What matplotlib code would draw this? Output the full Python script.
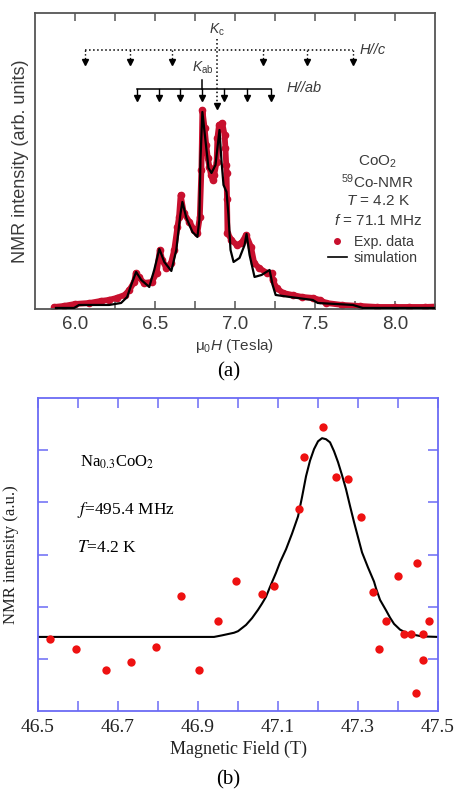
import numpy as np
import matplotlib
matplotlib.use("Agg")
import matplotlib.pyplot as plt
from matplotlib.lines import Line2D

plt.rcParams['mathtext.fontset'] = 'custom'
plt.rcParams['mathtext.rm'] = 'Liberation Sans'
plt.rcParams['mathtext.it'] = 'Liberation Sans:italic'

# ---- (a) CoO2, 59Co-NMR spectrum ----
exp_field = [5.87, 5.93, 6.00, 6.09, 6.16, 6.21, 6.26, 6.31, 6.34, 6.37, 6.38,
             6.40, 6.43, 6.48, 6.51, 6.53, 6.545, 6.57, 6.60, 6.62, 6.64, 6.65,
             6.66, 6.68, 6.715, 6.745, 6.765, 6.78, 6.79, 6.796, 6.81, 6.82,
             6.83, 6.84, 6.85, 6.86, 6.87, 6.885, 6.89, 6.90, 6.92, 6.935, 6.94,
             6.945, 6.947, 6.95, 6.953, 6.978, 7.01, 7.04, 7.07, 7.10, 7.12,
             7.15, 7.20, 7.23, 7.235, 7.26, 7.30, 7.36, 7.42, 7.49, 7.53, 7.57,
             7.67, 7.78, 7.89, 8.00, 8.09, 8.19, 8.25]
exp_int = [0.01, 0.015, 0.025, 0.03, 0.04, 0.045, 0.055, 0.07, 0.095, 0.135, 0.18,
           0.16, 0.13, 0.135, 0.18, 0.295, 0.245, 0.205, 0.23, 0.295, 0.41, 0.46,
           0.57, 0.48, 0.435, 0.395, 0.38, 0.46, 0.695, 0.995, 0.905, 0.82,
           0.755, 0.71, 0.67, 0.645, 0.67, 0.735, 0.855, 0.92, 0.93, 0.87, 0.805,
           0.72, 0.68, 0.55, 0.38, 0.345, 0.32, 0.33, 0.37, 0.31, 0.23,
           0.205, 0.18, 0.18, 0.145, 0.105, 0.08, 0.07, 0.06, 0.055, 0.045, 0.03,
           0.02, 0.015, 0.01, 0.01, 0.01, 0.01, 0.012]

sim_field = [5.881, 5.994, 6.025, 6.213, 6.288, 6.326, 6.351, 6.382, 6.414, 6.464,
             6.495, 6.527, 6.558, 6.602, 6.633, 6.658, 6.671, 6.696, 6.734, 6.765,
             6.777, 6.784, 6.796, 6.815, 6.834, 6.853, 6.878, 6.903, 6.915, 6.928,
             6.947, 6.959, 6.972, 6.991, 7.028, 7.060, 7.072, 7.091, 7.122, 7.166,
             7.216, 7.235, 7.254, 7.342, 7.486, 7.517, 7.737, 7.799, 8.25]
sim_int = [0.005, 0.005, 0.02, 0.02, 0.03, 0.06, 0.12, 0.185, 0.145, 0.11,
           0.195, 0.30, 0.235, 0.19, 0.295, 0.47, 0.535, 0.455, 0.385, 0.36,
           0.445, 0.745, 0.985, 0.845, 0.705, 0.68, 0.72, 0.895, 0.745, 0.62,
           0.585, 0.47, 0.295, 0.235, 0.255, 0.32, 0.375, 0.27, 0.16, 0.17,
           0.195, 0.12, 0.07, 0.06, 0.045, 0.03, 0.02, 0.005, 0.005]

hc_lines = [6.063, 6.345, 6.608, 7.172, 7.448, 7.737]
hab_lines = [6.389, 6.527, 6.658, 6.796, 6.934, 7.072, 7.223]
k_c = 6.89
k_ab = 6.796

# ---- (b) Na0.3CoO2 ----
b_field = [46.53, 46.594, 46.67, 46.733, 46.794, 46.857, 46.903, 46.949, 46.996,
           47.059, 47.09, 47.153, 47.166, 47.213, 47.245, 47.276, 47.307, 47.338,
           47.353, 47.37, 47.399, 47.416, 47.433, 47.445, 47.447, 47.462, 47.462,
           47.478]
b_int = [1.38, 1.19, 0.79, 0.94, 1.23, 2.20, 0.79, 1.73, 2.49,
         2.24, 2.39, 3.88, 4.87, 5.44, 4.49, 4.44, 3.72, 2.28,
         1.19, 1.73, 2.58, 1.48, 1.48, 0.34, 2.84, 1.48, 0.98,
         1.73]

fit_field = [46.5, 46.94, 46.96, 46.99, 47.0, 47.02, 47.035, 47.05, 47.06, 47.07,
             47.08, 47.095, 47.105, 47.12, 47.135, 47.15, 47.16, 47.17, 47.18,
             47.19, 47.2, 47.21, 47.22, 47.23, 47.24, 47.25, 47.26, 47.27, 47.28,
             47.29, 47.30, 47.31, 47.325, 47.34, 47.345, 47.355, 47.37, 47.38,
             47.39, 47.405, 47.42, 47.44, 47.46, 47.5]
fit_int = [1.42, 1.42, 1.45, 1.50, 1.53, 1.65, 1.78, 1.94, 2.06, 2.19,
           2.38, 2.65, 2.85, 3.1, 3.4, 3.73, 4.1, 4.5, 4.8,
           5.02, 5.17, 5.23, 5.21, 5.15, 4.98, 4.77, 4.52, 4.25, 3.93,
           3.62, 3.33, 3.04, 2.75, 2.48, 2.35, 2.13, 1.93, 1.79,
           1.67, 1.56, 1.5, 1.46, 1.43, 1.42]

gray = '#3a3a3a'
red_a = '#c8102e'
red_b = '#ee1111'
blue = '#6b6bf5'

fig = plt.figure(figsize=(4.57, 7.9), dpi=100)

# panel (a)
ax1 = fig.add_axes([0.0766, 0.6089, 0.8753, 0.3747])
ax1.plot(exp_field, exp_int, '-', color=red_a, lw=4.2, solid_joinstyle='round',
         solid_capstyle='round', zorder=2)
ax1.plot(exp_field, exp_int, 'o', color=red_a, ms=4.5, zorder=2)
ax1.plot(sim_field, sim_int, '-', color='black', lw=1.6, zorder=3)

# H//c satellite positions (dotted)
y_hc, tip_hc = 1.295, 1.225
ax1.plot([hc_lines[0], hc_lines[-1]], [y_hc, y_hc], ':', color='black', lw=1.1)
for x in hc_lines:
    ax1.plot([x, x], [y_hc, tip_hc + 0.02], ':', color='black', lw=1.0)
    ax1.plot(x, tip_hc + 0.01, 'v', color='black', ms=4.5)
ax1.plot([k_c, k_c], [1.35, 1.03], ':', color='black', lw=1.1)
ax1.plot(k_c, 1.015, 'v', color='black', ms=4.5)
ax1.text(k_c, 1.395, r'$K_\mathrm{c}$', ha='center', va='center', fontsize=10,
         color=gray, math_fontfamily='custom')
ax1.text(7.78, y_hc, 'H//c', ha='left', va='center', fontsize=10.5, style='italic',
         color=gray, family='Liberation Sans')

# H//ab satellite positions (solid)
y_hab, tip_hab = 1.10, 1.045
ax1.plot([hab_lines[0], hab_lines[-1]], [y_hab, y_hab], '-', color='black', lw=1.1)
for x in hab_lines:
    ax1.plot([x, x], [y_hab, tip_hab + 0.02], '-', color='black', lw=1.0)
    ax1.plot(x, tip_hab + 0.01, 'v', color='black', ms=4.5)
ax1.plot([k_ab, k_ab], [1.145, y_hab], '-', color='black', lw=1.1)
ax1.text(k_ab, 1.205, r'$K_\mathrm{ab}$', ha='center', va='center', fontsize=10,
         color=gray, math_fontfamily='custom')
ax1.text(7.32, y_hab + 0.005, 'H//ab', ha='left', va='center', fontsize=10.5,
         style='italic', color=gray, family='Liberation Sans')

info_a = [r'CoO$_2$', r'$^{59}$Co-NMR', r'$T$ = 4.2 K', r'$f$ = 71.1 MHz']
for i, s in enumerate(info_a):
    ax1.text(0.857, 0.497 - i * 0.0655, s, transform=ax1.transAxes, ha='center',
             va='center', fontsize=11, color=gray, family='Liberation Sans',
             math_fontfamily='custom')
handles = [Line2D([], [], ls='none', marker='o', color=red_a, ms=4),
           Line2D([], [], ls='-', color='black', lw=1.2)]
leg = ax1.legend(handles, ['Exp. data', 'simulation'], loc='center',
                 bbox_to_anchor=(0.845, 0.2), frameon=False, handlelength=1.3,
                 handletextpad=0.5, labelspacing=0.15, borderpad=0,
                 prop={'family': 'Liberation Sans', 'size': 10.2})
for t in leg.get_texts():
    t.set_color(gray)

ax1.set_xlim(5.75, 8.25)
ax1.set_ylim(0, 1.48)
ax1.set_xticks([6.0, 6.5, 7.0, 7.5, 8.0])
ax1.set_xticklabels(['6.0', '6.5', '7.0', '7.5', '8.0'])
ax1.set_xticks(np.arange(6.25, 8.0, 0.5), minor=True)
ax1.set_yticks([])
ax1.tick_params(axis='x', which='both', direction='in', top=True, bottom=True,
                length=6, width=1.1, color='#555555', labelsize=13.5, labelcolor=gray,
                pad=5)
for lbl in ax1.get_xticklabels():
    lbl.set_family('Liberation Sans')
for sp in ax1.spines.values():
    sp.set_color('#555555')
    sp.set_linewidth(1.3)
ax1.set_xlabel('μ$_0$$H$ (Tesla)', fontsize=11, color=gray, family='Liberation Sans',
               math_fontfamily='custom', labelpad=3)
ax1.set_ylabel('NMR intensity (arb. units)', fontsize=13, color=gray,
               family='Liberation Sans', labelpad=4)
fig.text(0.5, 1 - 372 / 790, '(a)', ha='center', va='center', fontsize=15,
         family='Liberation Serif')

# panel (b)
ax2 = fig.add_axes([0.0832, 0.1, 0.8753, 0.3962])
ax2.plot(fit_field, fit_int, '-', color='black', lw=1.5, zorder=2)
ax2.plot(b_field, b_int, 'o', color=red_b, ms=6, mec='none', zorder=3)
ax2.set_xlim(46.5, 47.5)
ax2.set_ylim(0, 6)
ax2.set_xticks(np.round(np.arange(46.5, 47.51, 0.1), 1))
ax2.set_xticklabels([f'{v:.1f}' if i % 2 == 0 else ''
                     for i, v in enumerate(np.arange(46.5, 47.51, 0.1))])
ax2.set_yticks([1, 2, 3, 4, 5])
ax2.set_yticklabels([])
ax2.tick_params(which='both', direction='in', top=True, right=True, length=7,
                width=1.1, color=blue, labelsize=14, labelcolor='#222222', pad=6)
for lbl in ax2.get_xticklabels():
    lbl.set_family('Liberation Serif')
for sp in ax2.spines.values():
    sp.set_color(blue)
    sp.set_linewidth(1.3)
ax2.text(0.105, 0.795, r'Na$_{0.3}$CoO$_2$', transform=ax2.transAxes, ha='left',
         va='center', fontsize=12, family='Liberation Serif', math_fontfamily='stix')
ax2.text(0.098, 0.642, r'$f$=495.4 MHz', transform=ax2.transAxes, ha='left',
         va='center', fontsize=12.5, family='Liberation Serif', math_fontfamily='stix')
ax2.text(0.098, 0.521, r'$T$=4.2 K', transform=ax2.transAxes, ha='left',
         va='center', fontsize=12.5, family='Liberation Serif', math_fontfamily='stix')
ax2.set_xlabel('Magnetic Field (T)', fontsize=13, family='Liberation Serif',
               color='#222222', labelpad=3)
ax2.set_ylabel('NMR intensity (a.u.)', fontsize=12, family='Liberation Serif',
               color='#222222', labelpad=8)
fig.text(0.5, 1 - 780 / 790, '(b)', ha='center', va='center', fontsize=15,
         family='Liberation Serif')

fig.savefig('out.png', dpi=100)
